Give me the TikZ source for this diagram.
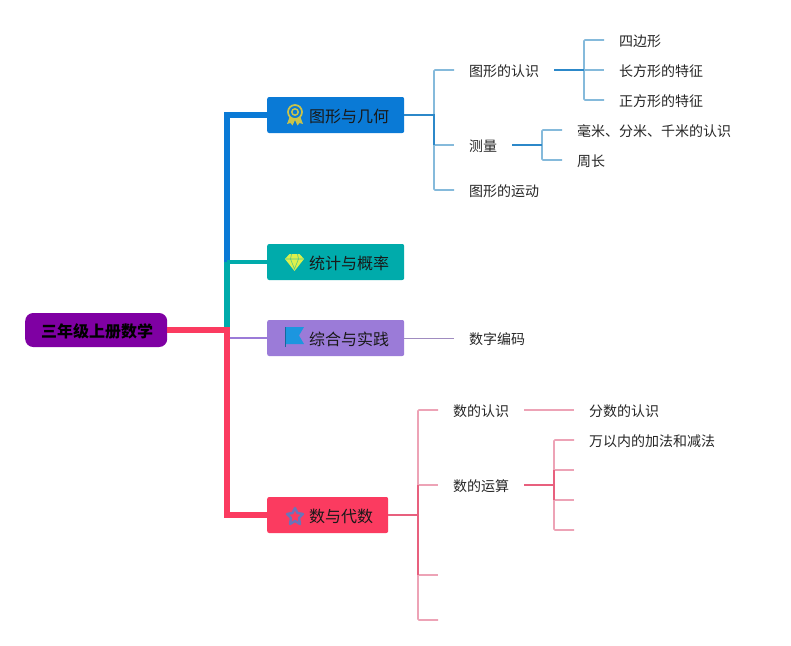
\documentclass[tikz,border=0pt]{standalone}
\usepackage{fontspec}
\setmainfont{Noto Sans CJK SC}
\definecolor{rootc}{HTML}{7F00A3}
\definecolor{bluec}{HTML}{0A7AD6}
\definecolor{tealc}{HTML}{00ABAB}
\definecolor{purpc}{HTML}{9B7BD8}
\definecolor{redc}{HTML}{FB3B60}
\definecolor{bluedk}{HTML}{2C88C9}
\definecolor{bluelt}{HTML}{85BADB}
\definecolor{reddk}{HTML}{E8607E}
\definecolor{redlt}{HTML}{EDA3B6}
\definecolor{purplt}{HTML}{A08CC0}
\definecolor{medalc}{HTML}{C9C44A}
\definecolor{gemc}{HTML}{DDF04C}
\definecolor{flagc}{HTML}{1C96DF}
\definecolor{starc}{HTML}{6B74B8}
\tikzset{
  x=1pt,y=-1pt,
  rootbox/.style={fill=rootc,rounded corners=8pt,minimum height=34pt,inner xsep=0pt,inner ysep=0pt,anchor=west,font=\fontsize{16pt}{16pt}\selectfont\bfseries,text=black,text height=16pt,text depth=2pt},
  mainbox/.style={rounded corners=2pt,minimum height=36pt,inner xsep=0pt,inner ysep=0pt,anchor=west,font=\fontsize{16pt}{16pt}\selectfont,text=black!90,text height=16pt,text depth=2pt},
  leaf/.style={anchor=west,inner xsep=15pt,inner ysep=0pt,font=\fontsize{14pt}{14pt}\selectfont,text=black!85,text height=14pt,text depth=2pt},
  bl/.style={draw=bluelt,line width=1.7pt},
  bd/.style={draw=bluedk,line width=2pt},
  rl/.style={draw=redlt,line width=1.7pt},
  rd/.style={draw=reddk,line width=2pt},
}
\newcommand{\mlabel}[1]{\hspace*{42pt}#1\hspace*{15pt}}
\begin{document}
\begin{tikzpicture}
\useasboundingbox (0,0) rectangle (791,645);
% nodes
\node[rootbox] (root) at (25,330) {\hspace*{16pt}三年级上册数学\hspace*{14pt}};
\node[mainbox,fill=bluec] (geo) at (267,115) {\mlabel{图形与几何}};
\node[mainbox,fill=tealc] (stat) at (267,262) {\mlabel{统计与概率}};
\node[mainbox,fill=purpc] (prac) at (267,338) {\mlabel{综合与实践}};
\node[mainbox,fill=redc] (num) at (267,515) {\mlabel{数与代数}};
\node[leaf] (g1) at (454,70) {图形的认识};
\node[leaf] (g2) at (454,145) {测量};
\node[leaf] (g3) at (454,190) {图形的运动};
\node[leaf] (g11) at (604,40) {四边形};
\node[leaf] (g12) at (604,70) {长方形的特征};
\node[leaf] (g13) at (604,100) {正方形的特征};
\node[leaf] (g21) at (562,130) {毫米、分米、千米的认识};
\node[leaf] (g22) at (562,160) {周长};
\node[leaf] (p1) at (454,338) {数字编码};
\node[leaf] (n1) at (438,410) {数的认识};
\node[leaf] (n2) at (438,485) {数的运算};
\node[leaf] (n11) at (574,410) {分数的认识};
\node[leaf] (n21) at (574,440) {万以内的加法和减法};
% junctions and free ends
\coordinate (tk) at (227,330);
\coordinate (gj) at (434,115);
\coordinate (g1j) at (584,70);
\coordinate (g2j) at (542,145);
\coordinate (nj) at (418,515);
\coordinate (n2j) at (554,485);
\coordinate (n3) at (438,575);
\coordinate (n4) at (438,620);
\coordinate (n22) at (574,470);
\coordinate (n23) at (574,500);
\coordinate (n24) at (574,530);
% level 1 connectors
\draw[bluec,line width=5.5pt] (tk) |- (geo.west);
\draw[tealc,line width=3.5pt] (tk |- stat) -- (stat.west);
\draw[tealc,line width=5.5pt] (tk) -- (tk |- stat);
\draw[purpc,line width=2pt] (tk) |- (prac.west);
\draw[redc,line width=6pt] (root.east) -- (tk) |- (num.west);
% geometry branch
\draw[bl,rounded corners=1pt] (g1.west) -| (gj);
\draw[bl,rounded corners=1pt] (g3.west) -| (gj);
\draw[bl] (gj |- g2) -- (g2.west);
\draw[bd] (geo.east) -- (gj) -- (gj |- g2);
\draw[bl,rounded corners=1pt] (g11.west) -| (g1j);
\draw[bl,rounded corners=1pt] (g13.west) -| (g1j);
\draw[bl] (g1j) -- (g12.west);
\draw[bd] (g1.east) -- (g1j);
\draw[bl,rounded corners=1pt] (g21.west) -| (g2j);
\draw[bl,rounded corners=1pt] (g22.west) -| (g2j);
\draw[bd] (g2.east) -- (g2j);
% practice branch
\draw[purplt,line width=1pt] (prac.east) -- (p1.west);
% number branch
\draw[rl,rounded corners=1pt] (n1.west) -| (nj);
\draw[rl,rounded corners=1pt] (n4) -| (nj);
\draw[rl] (nj |- n2) -- (n2.west);
\draw[rl] (nj |- n3) -- (n3);
\draw[rd] (num.east) -- (nj);
\draw[rd] (nj |- n2) -- (nj |- n3);
\draw[rl] (n1.east) -- (n11.west);
\draw[rl,rounded corners=1pt] (n21.west) -| (n2j);
\draw[rl,rounded corners=1pt] (n24) -| (n2j);
\draw[rl] (n2j |- n22) -- (n22);
\draw[rl] (n2j |- n23) -- (n23);
\draw[rd] (n2.east) -- (n2j);
\draw[rd] (n2j |- n22) -- (n2j |- n23);
% icons
\begin{scope}[shift={(295,112)}]
  \fill[medalc] (-5,4) -- (-8,12) -- (-4.5,11) -- (-2.5,13.5) -- (0,8) -- (2.5,13.5) -- (4.5,11) -- (8,12) -- (5,4) -- cycle;
  \draw[medalc,line width=1.7pt,fill=bluec] (0,0) circle (7pt);
  \draw[medalc,line width=1.5pt] (0,0) circle (3.2pt);
\end{scope}
\begin{scope}[shift={(294.5,262)}]
  \fill[gemc] (-5,-8) -- (5,-8) -- (9.5,-3) -- (0,9) -- (-9.5,-3) -- cycle;
  \draw[tealc!60!gemc,line width=.6pt] (-9,-3) -- (9,-3) (-3,-8) -- (-4,-3) -- (0,7) -- (4,-3) -- (3,-8);
\end{scope}
\begin{scope}[shift={(285,327)}]
  \fill[flagc] (0,0) -- (19,0) -- (14,8.5) -- (19,17) -- (0,17) -- cycle;
  \draw[flagc!70!black,line width=.8pt] (0,0) -- (0,20);
\end{scope}
\draw[starc,line width=2.4pt,line join=round]
  (295,508) -- (297.5,513) -- (303,514) -- (299,518) -- (300,524) -- (295,521) -- (290,524) -- (291,518) -- (287,514) -- (292.5,513) -- cycle;
\end{tikzpicture}
\end{document}
